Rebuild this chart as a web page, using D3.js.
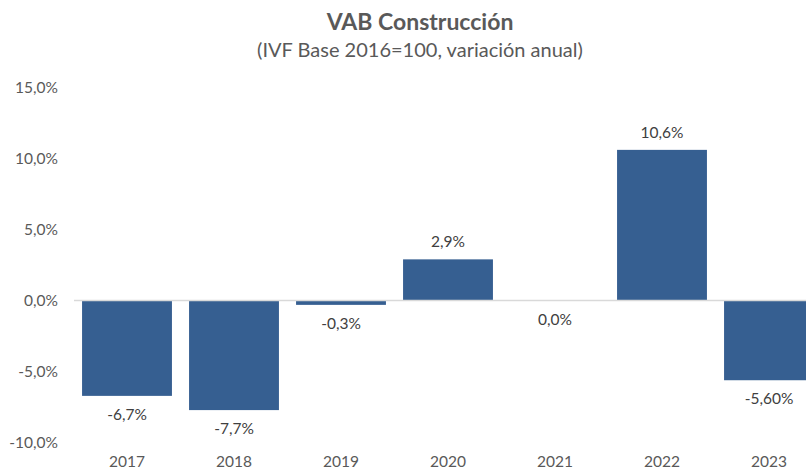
<!DOCTYPE html>
<html><head><meta charset="utf-8">
<script src="https://cdn.jsdelivr.net/npm/d3@7"></script>
<style>body{margin:0;background:#fff}svg{display:block}</style>
</head><body>
<svg id="c" width="806" height="472"></svg>
<script>
const categories = ["2017","2018","2019","2020","2021","2022","2023"];
const values = [-6.7,-7.7,-0.3,2.9,0.0,10.6,-5.6];
const valueLabels = ["-6,7%","-7,7%","-0,3%","2,9%","0,0%","10,6%","-5,60%"];
const yTicks = [-10,-5,0,5,10,15];
const yTickLabels = ["-10,0%","-5,0%","0,0%","5,0%","10,0%","15,0%"];
const title = "VAB Construcción";
const subtitle = "(IVF Base 2016=100, variación anual)";

const svg = d3.select("#c");
const font = "Lato, 'Open Sans', sans-serif";
const x = d3.scaleBand().domain(categories).range([73.5, 822.5]).paddingInner(0.16).paddingOuter(0.08);
const y = d3.scaleLinear().domain([-10,15]).range([442.8, 87.3]);

svg.append("text").attr("x",420).attr("y",30).attr("text-anchor","middle")
  .attr("font-family",font).attr("font-weight","bold").attr("font-size",23).attr("fill","#595959").text(title);
svg.append("text").attr("x",420).attr("y",57).attr("text-anchor","middle")
  .attr("font-family",font).attr("font-size",20).attr("fill","#595959").text(subtitle);

const yAxis = d3.axisLeft(y).tickValues(yTicks).tickSize(0).tickPadding(0)
  .tickFormat((d,i)=>yTickLabels[i]);
const ya = svg.append("g").attr("transform","translate(58,0)").call(yAxis);
ya.select(".domain").remove();
ya.selectAll("text").attr("font-family",font).attr("font-size",15.5).attr("fill","#595959");

svg.append("g").selectAll("rect").data(values).join("rect")
  .attr("x",(d,i)=>x(categories[i]))
  .attr("width",x.bandwidth())
  .attr("y",d=>y(Math.max(0,d)))
  .attr("height",d=>Math.abs(y(d)-y(0)))
  .attr("fill","#365f91");

svg.append("line").attr("x1",74).attr("x2",806).attr("y1",y(0)).attr("y2",y(0))
  .attr("stroke","#d9d9d9").attr("stroke-width",1.5);

svg.append("g").selectAll("text").data(values).join("text")
  .attr("x",(d,i)=>x(categories[i])+x.bandwidth()/2)
  .attr("y",d=> d>0 ? y(d)-12 : y(Math.min(0,d))+24)
  .attr("text-anchor","middle").attr("font-family",font).attr("font-size",15.5).attr("fill","#404040")
  .text((d,i)=>valueLabels[i]);

const xAxis = d3.axisBottom(x).tickSize(0).tickPadding(0);
const xa = svg.append("g").attr("transform","translate(0,456)").call(xAxis);
xa.select(".domain").remove();
xa.selectAll("text").attr("font-family",font).attr("font-size",15.5).attr("fill","#595959");
</script>
</body></html>
